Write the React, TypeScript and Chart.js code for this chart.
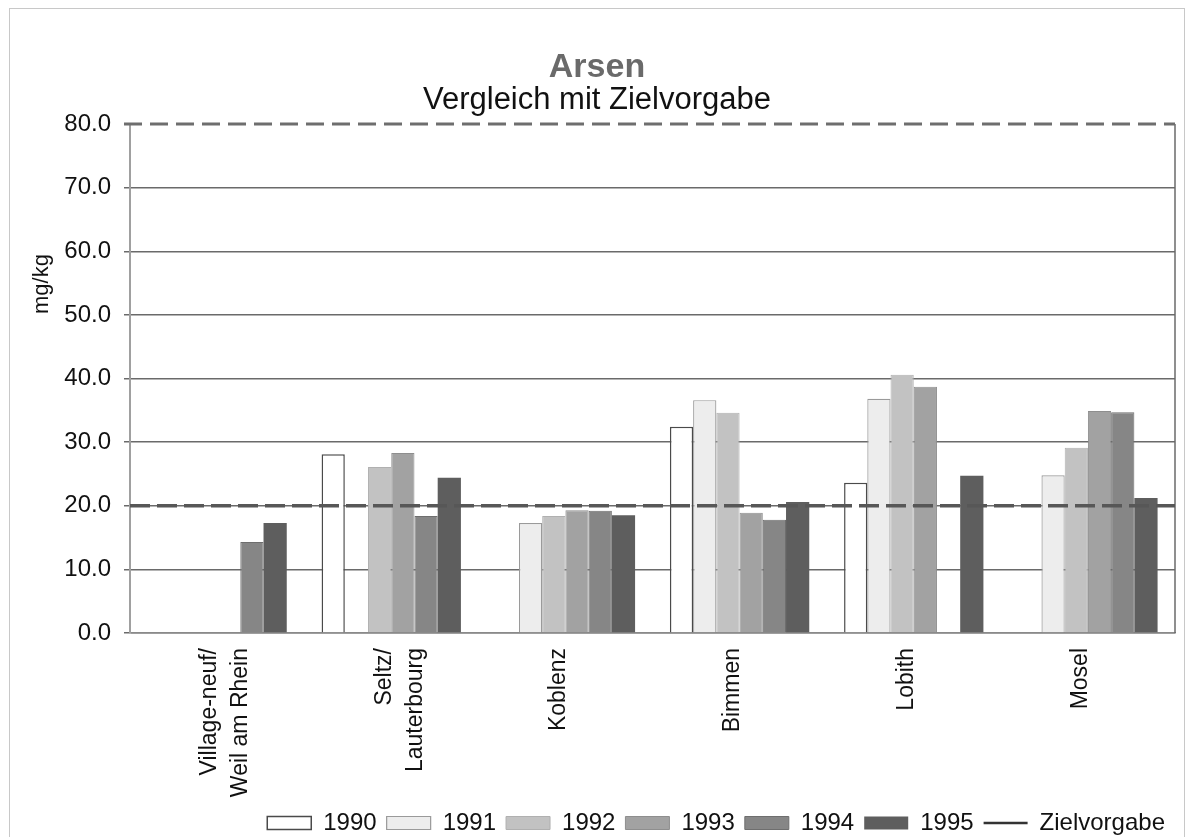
import React, { useEffect, useRef } from 'react';
import { Chart, registerables } from 'chart.js';

Chart.register(...registerables);

const FONT = '"Liberation Sans", Arial, sans-serif';

const categories: (string | string[])[] = [
  ['Village-neuf/', 'Weil am Rhein'],
  ['Seltz/', 'Lauterbourg'],
  'Koblenz',
  'Bimmen',
  'Lobith',
  'Mosel',
];

const seriesNames = ['1990', '1991', '1992', '1993', '1994', '1995'];

const v1990 = [null, 28.1, null, 32.4, 23.6, null];
const v1991 = [null, null, 17.3, 36.6, 36.8, 24.8];
const v1992 = [null, 26.1, 18.4, 34.6, 40.6, 29.1];
const v1993 = [null, 28.3, 19.3, 18.9, 38.7, 34.9];
const v1994 = [14.3, 18.4, 19.2, 17.8, null, 34.7];
const v1995 = [17.3, 24.4, 18.5, 20.6, 24.7, 21.2];

const zielvorgabe = [20, 20];
const zielName = 'Zielvorgabe';

const yMin = 0;
const yMax = 80;
const yStep = 10;

const titleText = 'Arsen';
const subtitleText = 'Vergleich mit Zielvorgabe';
const yTitle = 'mg/kg';

const seriesValues = [v1990, v1991, v1992, v1993, v1994, v1995];
const fills = ['#ffffff', '#ededed', '#c2c2c2', '#a2a2a2', '#868686', '#5e5e5e'];
const borders = ['#4a4a4a', '#9a9a9a', '#b0b0b0', '#8e8e8e', '#6e6e6e', '#5e5e5e'];
const borderWidths = [1.5, 1.2, 1, 1, 1, 0];

const decorPlugin = {
  id: 'decor',
  beforeDatasetsDraw(chart: any) {
    const { ctx, chartArea: a, scales } = chart;
    const y = scales.y;
    ctx.save();
    ctx.strokeStyle = '#6a6a6a';
    ctx.lineWidth = 1.5;
    ctx.beginPath();
    ctx.moveTo(a.right, a.top);
    ctx.lineTo(a.right, a.bottom);
    ctx.stroke();
    const yt = y.getPixelForValue(y.max);
    ctx.setLineDash([18, 8]);
    ctx.lineWidth = 3;
    ctx.strokeStyle = '#6e6e6e';
    ctx.beginPath();
    ctx.moveTo(a.left - 6, yt);
    ctx.lineTo(a.right, yt);
    ctx.stroke();
    ctx.restore();
  },
  afterDraw(chart: any) {
    const { ctx, chartArea: a } = chart;
    ctx.save();
    ctx.translate(a.left - 88, a.top + 160);
    ctx.rotate(-Math.PI / 2);
    ctx.font = `22px ${FONT}`;
    ctx.fillStyle = '#111';
    ctx.textAlign = 'center';
    ctx.textBaseline = 'middle';
    ctx.fillText(yTitle, 0, 0);
    ctx.restore();
  },
};

export default function App() {
  const ref = useRef<HTMLCanvasElement | null>(null);

  useEffect(() => {
    if (!ref.current) return;
    const barSets = seriesNames.map((name, i) => ({
      type: 'bar' as const,
      indexAxis: 'x',
      label: name,
      data: seriesValues[i],
      backgroundColor: fills[i],
      borderColor: borders[i],
      borderWidth: borderWidths[i],
      xAxisID: 'x',
      yAxisID: 'y',
      order: 1,
      categoryPercentage: 0.8,
      barPercentage: 1.0,
    }));
    const lineSet = {
      type: 'line' as const,
      indexAxis: 'x',
      label: zielName,
      data: zielvorgabe.map((v, i) => ({ x: i, y: v })),
      borderColor: '#575757',
      backgroundColor: '#575757',
      borderWidth: 3.5,
      borderDash: [20, 7],
      pointRadius: 0,
      fill: false,
      xAxisID: 'xt',
      yAxisID: 'y',
      order: -1,
    };

    const chart = new Chart(ref.current, {
      type: 'bar',
      data: {
        labels: categories as any,
        datasets: [...barSets, lineSet] as any,
      },
      plugins: [decorPlugin],
      options: {
        indexAxis: 'y',
        responsive: false,
        animation: false,
        devicePixelRatio: 1,
        layout: { padding: { left: 19, right: 19, top: 0, bottom: 0 } },
        plugins: {
          tooltip: { enabled: false },
          title: {
            display: true,
            text: titleText,
            color: '#6a6a6a',
            font: { family: FONT, size: 34, weight: 'bold', lineHeight: 1 },
            padding: { top: 51, bottom: 0 },
          },
          subtitle: {
            display: true,
            text: subtitleText,
            color: '#111',
            font: { family: FONT, size: 31, lineHeight: 1 },
            padding: { top: 0, bottom: 8 },
          },
          legend: {
            display: true,
            position: 'bottom',
            align: 'end',
            maxHeight: 36,
            labels: {
              color: '#111',
              font: { family: FONT, size: 24 },
              boxWidth: 44,
              boxHeight: 13,
              usePointStyle: true,
              pointStyleWidth: 44,
              padding: 10,
              sort: (a: any, b: any) => a.datasetIndex - b.datasetIndex,
              generateLabels: (c: any) => {
                const items = (Chart.defaults.plugins.legend.labels as any).generateLabels(c);
                return items.map((it: any) =>
                  it.text === zielName
                    ? { ...it, pointStyle: 'line', lineDash: [], lineWidth: 2.5, strokeStyle: '#333' }
                    : { ...it, pointStyle: 'rect' }
                );
              },
            },
          },
        },
        scales: {
          x: {
            type: 'category',
            axis: 'x',
            position: 'bottom',
            offset: true,
            grid: { display: false, drawTicks: false, offset: false },
            border: { display: true, color: '#8a8a8a', width: 1.5 },
            ticks: {
              autoSkip: false,
              minRotation: 90,
              maxRotation: 90,
              padding: 15,
              labelOffset: -7,
              color: '#111',
              font: { family: FONT, size: 23, lineHeight: 1.35 },
            },
            afterFit: (s: any) => {
              s.height = 168;
            },
          },
          xt: {
            type: 'linear',
            axis: 'x',
            position: 'bottom',
            display: false,
            offset: false,
            min: 0,
            max: zielvorgabe.length - 1,
          },
          y: {
            type: 'linear',
            axis: 'y',
            position: 'left',
            offset: false,
            min: yMin,
            max: yMax,
            ticks: {
              stepSize: yStep,
              padding: 13,
              color: '#111',
              font: { family: FONT, size: 24 },
              callback: (v: any) => Number(v).toFixed(1),
            },
            grid: {
              offset: false,
              color: (c: any) => (c.tick && c.tick.value === yMax ? 'rgba(0,0,0,0)' : '#6a6a6a'),
              lineWidth: 1.5,
              tickLength: 6,
              drawTicks: true,
            },
            border: { display: true, color: '#a0a0a0', width: 2 },
            afterFit: (s: any) => {
              s.width = 111;
            },
          },
        },
      } as any,
    });
    return () => chart.destroy();
  }, []);

  return (
    <div style={{ position: 'fixed', left: 0, top: 0, width: 1194, height: 837, background: '#fff', overflow: 'hidden' }}>
      <div
        style={{
          position: 'absolute',
          left: 9,
          top: 8,
          width: 1176,
          height: 840,
          border: '1px solid #c8c8c8',
          boxSizing: 'border-box',
        }}
      />
      <canvas
        ref={ref}
        width={1194}
        height={837}
        style={{ position: 'absolute', left: 0, top: 0, width: 1194, height: 837 }}
      />
    </div>
  );
}
